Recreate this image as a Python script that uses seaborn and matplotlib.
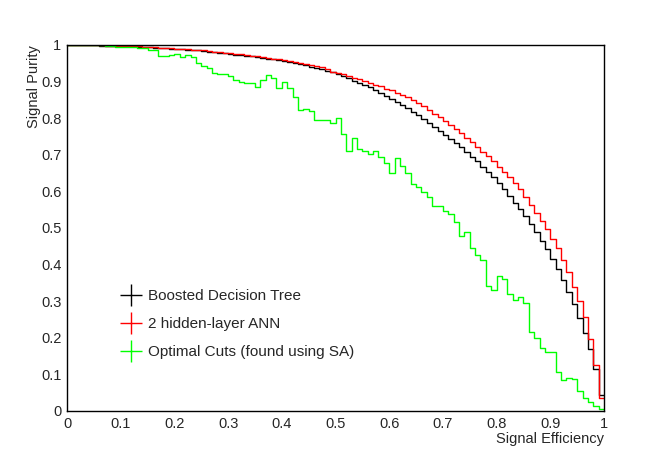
import numpy as np
import pandas as pd
import matplotlib
matplotlib.use('Agg')
import matplotlib.pyplot as plt
from matplotlib.lines import Line2D
from matplotlib.ticker import MultipleLocator, FuncFormatter
import seaborn as sns

# signal purity per efficiency bin (100 bins from 0 to 1)
bdt_purity = [
    1.000, 1.000, 0.999, 0.999, 0.999, 0.999, 0.998, 0.998, 0.998, 0.997,
    0.997, 0.996, 0.996, 0.995, 0.995, 0.994, 0.993, 0.992, 0.991, 0.990,
    0.989, 0.988, 0.987, 0.986, 0.985, 0.983, 0.982, 0.981, 0.979, 0.978,
    0.976, 0.974, 0.973, 0.971, 0.969, 0.967, 0.965, 0.963, 0.961, 0.958,
    0.956, 0.953, 0.951, 0.948, 0.945, 0.941, 0.938, 0.934, 0.930, 0.925,
    0.920, 0.915, 0.909, 0.903, 0.897, 0.890, 0.884, 0.877, 0.869, 0.861,
    0.853, 0.845, 0.836, 0.827, 0.818, 0.808, 0.798, 0.788, 0.777, 0.766,
    0.755, 0.744, 0.732, 0.720, 0.708, 0.695, 0.682, 0.668, 0.654, 0.639,
    0.624, 0.606, 0.587, 0.569, 0.551, 0.533, 0.511, 0.488, 0.464, 0.442,
    0.415, 0.387, 0.358, 0.326, 0.292, 0.255, 0.212, 0.169, 0.115, 0.044,
]
ann_purity = [
    1.000, 1.000, 1.000, 0.999, 0.999, 0.999, 0.999, 0.998, 0.998, 0.998,
    0.997, 0.997, 0.996, 0.996, 0.995, 0.995, 0.994, 0.993, 0.992, 0.991,
    0.990, 0.989, 0.988, 0.987, 0.986, 0.985, 0.984, 0.982, 0.981, 0.979,
    0.978, 0.976, 0.975, 0.973, 0.971, 0.969, 0.967, 0.965, 0.963, 0.961,
    0.958, 0.956, 0.953, 0.951, 0.948, 0.945, 0.942, 0.939, 0.935, 0.927,
    0.924, 0.920, 0.915, 0.911, 0.906, 0.902, 0.897, 0.892, 0.887, 0.881,
    0.876, 0.870, 0.864, 0.857, 0.850, 0.841, 0.832, 0.822, 0.812, 0.802,
    0.792, 0.781, 0.770, 0.759, 0.747, 0.735, 0.722, 0.709, 0.696, 0.682,
    0.668, 0.654, 0.639, 0.624, 0.606, 0.586, 0.563, 0.542, 0.520, 0.496,
    0.471, 0.445, 0.413, 0.381, 0.340, 0.301, 0.256, 0.196, 0.126, 0.035,
]
cuts_purity = [
    1.000, 1.000, 0.999, 0.999, 0.999, 0.999, 0.999, 0.998, 0.998, 0.995,
    0.995, 0.995, 0.994, 0.992, 0.992, 0.985, 0.985, 0.970, 0.970, 0.973,
    0.975, 0.968, 0.973, 0.966, 0.950, 0.943, 0.936, 0.924, 0.920, 0.920,
    0.916, 0.904, 0.900, 0.895, 0.895, 0.884, 0.904, 0.918, 0.909, 0.882,
    0.898, 0.882, 0.859, 0.822, 0.825, 0.820, 0.795, 0.795, 0.795, 0.788,
    0.800, 0.757, 0.711, 0.747, 0.715, 0.711, 0.701, 0.711, 0.693, 0.678,
    0.649, 0.692, 0.670, 0.649, 0.620, 0.611, 0.599, 0.586, 0.560, 0.560,
    0.547, 0.538, 0.517, 0.478, 0.490, 0.445, 0.426, 0.413, 0.342, 0.331,
    0.369, 0.361, 0.319, 0.303, 0.312, 0.296, 0.215, 0.200, 0.171, 0.162,
    0.162, 0.107, 0.085, 0.091, 0.087, 0.056, 0.035, 0.025, 0.014, 0.005,
]

method_names = ['Boosted Decision Tree', '2 hidden-layer ANN', 'Optimal Cuts (found using SA)']
method_colors = ['#000000', '#ff0000', '#00ff00']

n_bins = len(bdt_purity)
edges = np.linspace(0, 1, n_bins + 1)
centers = 0.5 * (edges[:-1] + edges[1:])

frames = []
for name, vals in zip(method_names, [bdt_purity, ann_purity, cuts_purity]):
    frames.append(pd.DataFrame({'eff': centers, 'purity': vals, 'method': name}))
df = pd.concat(frames, ignore_index=True)

sns.set_style('white')
plt.rcParams['font.family'] = ['Liberation Sans', 'DejaVu Sans']

fig = plt.figure(figsize=(6.71, 4.57), dpi=100)
ax = fig.add_axes([67 / 671, 46 / 457, 537 / 671, 366 / 457])

for name, color in zip(method_names, method_colors):
    sub = df[df['method'] == name]
    sns.histplot(data=sub, x='eff', weights='purity', bins=n_bins, binrange=(0, 1),
                 element='step', fill=False, color=color, linewidth=1.0, ax=ax)

ax.set_xlim(0, 1)
ax.set_ylim(0, 1)

for side in ['left', 'bottom', 'top', 'right']:
    ax.spines[side].set_color('black')
    ax.spines[side].set_linewidth(1.0)

fmt = FuncFormatter(lambda v, p: '%g' % round(v, 2))
ax.xaxis.set_major_locator(MultipleLocator(0.1))
ax.xaxis.set_minor_locator(MultipleLocator(0.02))
ax.yaxis.set_major_locator(MultipleLocator(0.1))
ax.yaxis.set_minor_locator(MultipleLocator(0.02))
ax.xaxis.set_major_formatter(fmt)
ax.yaxis.set_major_formatter(fmt)

ax.tick_params(axis='x', which='major', direction='in', length=7.2, width=0.8,
               labelsize=10.5, pad=4, top=False, color='#222222')
ax.tick_params(axis='x', which='minor', direction='in', length=3.6, width=0.8,
               top=False, color='#222222')
ax.tick_params(axis='y', which='major', direction='in', length=11.5, width=0.8,
               labelsize=10.5, pad=4, right=False, color='#222222')
ax.tick_params(axis='y', which='minor', direction='in', length=5.8, width=0.8,
               right=False, color='#222222')

ax.set_xlabel('Signal Efficiency', fontsize=10.5, loc='right')
ax.set_ylabel('Signal Purity', fontsize=10.5, loc='top')
ax.xaxis.set_label_coords(1.0, -0.058)
ax.yaxis.set_label_coords(-0.048, 1.0)

handles = [Line2D([], [], color=c, marker='+', markersize=16, markeredgewidth=1.0,
                  linestyle='None') for c in method_colors]
ax.legend(handles, method_names, loc='upper left', bbox_to_anchor=(0.085, 0.349),
          frameon=False, fontsize=11, handlelength=1.6, handletextpad=0.3,
          labelspacing=0.9, borderaxespad=0)

fig.savefig('out.png', dpi=100)
